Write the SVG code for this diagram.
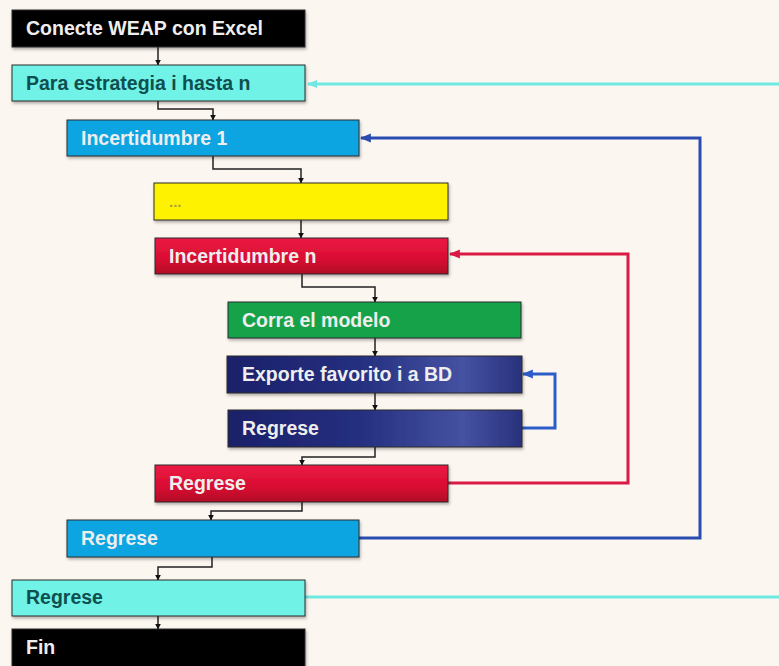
<svg xmlns="http://www.w3.org/2000/svg" width="779" height="666" viewBox="0 0 779 666">
<defs>
<linearGradient id="gRed" x1="0" y1="0" x2="0" y2="1">
<stop offset="0" stop-color="#ec1a44"/>
<stop offset="0.6" stop-color="#d80c32"/>
<stop offset="1" stop-color="#b00826"/>
</linearGradient>
<linearGradient id="gNavy" x1="0" y1="0" x2="1" y2="0">
<stop offset="0" stop-color="#1b2169"/>
<stop offset="0.45" stop-color="#252f80"/>
<stop offset="0.8" stop-color="#4552a2"/>
<stop offset="1" stop-color="#29317c"/>
</linearGradient>
<filter id="sh" x="-5%" y="-20%" width="110%" height="150%">
<feDropShadow dx="1" dy="2" stdDeviation="1.5" flood-color="#000" flood-opacity="0.3"/>
</filter>
<marker id="ak" viewBox="0 0 10 10" refX="9" refY="5" markerWidth="6" markerHeight="6" orient="auto" markerUnits="userSpaceOnUse">
<path d="M0,0 L10,5 L0,10 z" fill="#111"/>
</marker>
<marker id="ac" viewBox="0 0 10 10" refX="9" refY="5" markerWidth="10" markerHeight="10" orient="auto" markerUnits="userSpaceOnUse">
<path d="M0,1 L10,5 L0,9 z" fill="#6ee8e0"/>
</marker>
<marker id="ab" viewBox="0 0 10 10" refX="9" refY="5" markerWidth="11" markerHeight="11" orient="auto" markerUnits="userSpaceOnUse">
<path d="M0,1 L10,5 L0,9 z" fill="#2a4cb0"/>
</marker>
<marker id="ar" viewBox="0 0 10 10" refX="9" refY="5" markerWidth="11" markerHeight="11" orient="auto" markerUnits="userSpaceOnUse">
<path d="M0,1 L10,5 L0,9 z" fill="#d81a44"/>
</marker>
<marker id="ab2" viewBox="0 0 10 10" refX="9" refY="5" markerWidth="11" markerHeight="11" orient="auto" markerUnits="userSpaceOnUse">
<path d="M0,1 L10,5 L0,9 z" fill="#2c5cc8"/>
</marker>
</defs>
<style>
.box{stroke:#2a2a2a;stroke-width:1;filter:url(#sh)}
.t{font-family:"Liberation Sans",Arial,sans-serif;font-weight:bold;font-size:19.5px;fill:#eeeeee}
.td{fill:#0f4f4f}
.ty{fill:#a8a040}
.k{fill:none;stroke:#222;stroke-width:1.5}
</style>
<rect width="779" height="666" fill="#fcf6f0"/>

<g id="connectors">
<path class="k" d="M158,47 V65" marker-end="url(#ak)"/>
<path class="k" d="M158,101 V109 H213 V120" marker-end="url(#ak)"/>
<path class="k" d="M213,156 V169 H301 V183" marker-end="url(#ak)"/>
<path class="k" d="M301,220 V238" marker-end="url(#ak)"/>
<path class="k" d="M302,274 V287 H375 V302" marker-end="url(#ak)"/>
<path class="k" d="M375,338 V356" marker-end="url(#ak)"/>
<path class="k" d="M375,393 V410" marker-end="url(#ak)"/>
<path class="k" d="M375,447 V457 H302 V465" marker-end="url(#ak)"/>
<path class="k" d="M302,502 V511 H211 V520" marker-end="url(#ak)"/>
<path class="k" d="M212,557 V567 H158 V580" marker-end="url(#ak)"/>
<path class="k" d="M158,616 V629" marker-end="url(#ak)"/>
<path d="M779,84 H308" fill="none" stroke="#6ee8e0" stroke-width="3" marker-end="url(#ac)"/>
<path d="M305,597 H779" fill="none" stroke="#6ee8e0" stroke-width="3"/>
<path d="M359,538 H700 V138 H361" fill="none" stroke="#2a4cb0" stroke-width="3" marker-end="url(#ab)"/>
<path d="M448,483 H628 V254 H450" fill="none" stroke="#d81a44" stroke-width="3" marker-end="url(#ar)"/>
<path d="M522,428 H555 V374 H523" fill="none" stroke="#2c5cc8" stroke-width="3" marker-end="url(#ab2)"/>
</g>

<g id="n1"><rect class="box" x="12" y="10" width="293" height="37" fill="#000"/><text class="t" x="26" y="35">Conecte WEAP con Excel</text></g>
<g id="n2"><rect class="box" x="12" y="65" width="293" height="36" fill="#70f2e6"/><text class="t td" x="26" y="90">Para estrategia i hasta n</text></g>
<g id="n3"><rect class="box" x="67" y="120" width="292" height="36" fill="#0aa4e2"/><text class="t" x="81" y="145">Incertidumbre 1</text></g>
<g id="n4"><rect class="box" x="154" y="183" width="294" height="37" fill="#fff200"/><text class="t ty" x="169" y="207" style="font-size:15px">...</text></g>
<g id="n5"><rect class="box" x="155" y="238" width="293" height="36" fill="url(#gRed)"/><text class="t" x="169" y="263">Incertidumbre n</text></g>
<g id="n6"><rect class="box" x="228" y="302" width="293" height="36" fill="#13a24a"/><text class="t" x="242" y="327">Corra el modelo</text></g>
<g id="n7"><rect class="box" x="227" y="356" width="295" height="37" fill="url(#gNavy)"/><text class="t" x="242" y="381">Exporte favorito i a BD</text></g>
<g id="n8"><rect class="box" x="228" y="410" width="294" height="37" fill="url(#gNavy)"/><text class="t" x="242" y="435">Regrese</text></g>
<g id="n9"><rect class="box" x="155" y="465" width="293" height="37" fill="url(#gRed)"/><text class="t" x="169" y="490">Regrese</text></g>
<g id="n10"><rect class="box" x="67" y="520" width="292" height="37" fill="#0aa4e2"/><text class="t" x="81" y="545">Regrese</text></g>
<g id="n11"><rect class="box" x="12" y="580" width="293" height="36" fill="#70f2e6"/><text class="t td" x="26" y="604">Regrese</text></g>
<g id="n12"><rect class="box" x="12" y="629" width="293" height="40" fill="#000"/><text class="t" x="26" y="654">Fin</text></g>
</svg>
